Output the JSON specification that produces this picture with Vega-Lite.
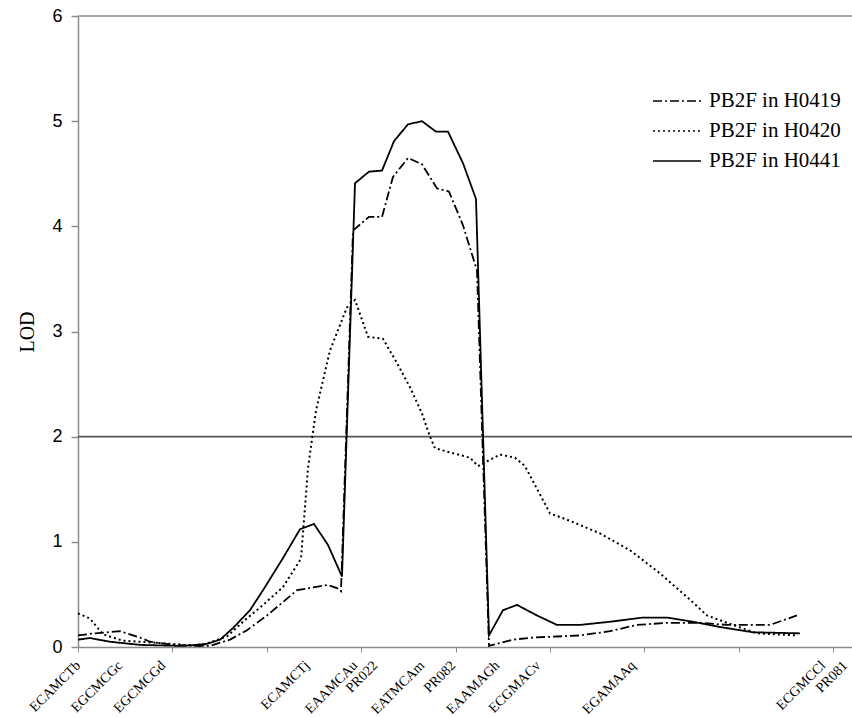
{
  "$schema": "https://vega.github.io/schema/vega-lite/v6.json",
  "width": 774,
  "height": 631,
  "autosize": {"type": "none"},
  "padding": {"left": 78, "top": 16, "right": 0, "bottom": 70},
  "background": "white",
  "config": {"view": {"stroke": null}, "legend": {"labelFont": "Liberation Serif"}},
  "datasets": {
    "lod": [
      {"series": "PB2F in H0441", "pos": 0, "lod": 0.07},
      {"series": "PB2F in H0441", "pos": 12, "lod": 0.085},
      {"series": "PB2F in H0441", "pos": 32, "lod": 0.05},
      {"series": "PB2F in H0441", "pos": 62, "lod": 0.02},
      {"series": "PB2F in H0441", "pos": 105, "lod": 0.01},
      {"series": "PB2F in H0441", "pos": 129, "lod": 0.03},
      {"series": "PB2F in H0441", "pos": 142, "lod": 0.07},
      {"series": "PB2F in H0441", "pos": 155, "lod": 0.18},
      {"series": "PB2F in H0441", "pos": 172, "lod": 0.35},
      {"series": "PB2F in H0441", "pos": 185, "lod": 0.54},
      {"series": "PB2F in H0441", "pos": 204, "lod": 0.83},
      {"series": "PB2F in H0441", "pos": 222, "lod": 1.12},
      {"series": "PB2F in H0441", "pos": 236, "lod": 1.17},
      {"series": "PB2F in H0441", "pos": 250, "lod": 0.97},
      {"series": "PB2F in H0441", "pos": 264, "lod": 0.67},
      {"series": "PB2F in H0441", "pos": 277, "lod": 4.41},
      {"series": "PB2F in H0441", "pos": 291, "lod": 4.52},
      {"series": "PB2F in H0441", "pos": 304, "lod": 4.53},
      {"series": "PB2F in H0441", "pos": 316, "lod": 4.81},
      {"series": "PB2F in H0441", "pos": 330, "lod": 4.97},
      {"series": "PB2F in H0441", "pos": 344, "lod": 5.0},
      {"series": "PB2F in H0441", "pos": 358, "lod": 4.9},
      {"series": "PB2F in H0441", "pos": 370, "lod": 4.9},
      {"series": "PB2F in H0441", "pos": 385, "lod": 4.6},
      {"series": "PB2F in H0441", "pos": 398, "lod": 4.26},
      {"series": "PB2F in H0441", "pos": 411, "lod": 0.11},
      {"series": "PB2F in H0441", "pos": 425, "lod": 0.35},
      {"series": "PB2F in H0441", "pos": 439, "lod": 0.4},
      {"series": "PB2F in H0441", "pos": 459, "lod": 0.3},
      {"series": "PB2F in H0441", "pos": 479, "lod": 0.21},
      {"series": "PB2F in H0441", "pos": 502, "lod": 0.21},
      {"series": "PB2F in H0441", "pos": 532, "lod": 0.24},
      {"series": "PB2F in H0441", "pos": 565, "lod": 0.28},
      {"series": "PB2F in H0441", "pos": 589, "lod": 0.28},
      {"series": "PB2F in H0441", "pos": 615, "lod": 0.24},
      {"series": "PB2F in H0441", "pos": 642, "lod": 0.19},
      {"series": "PB2F in H0441", "pos": 675, "lod": 0.14},
      {"series": "PB2F in H0441", "pos": 722, "lod": 0.13},
      {"series": "PB2F in H0419", "pos": 0, "lod": 0.11},
      {"series": "PB2F in H0419", "pos": 17, "lod": 0.13},
      {"series": "PB2F in H0419", "pos": 42, "lod": 0.15},
      {"series": "PB2F in H0419", "pos": 62, "lod": 0.09},
      {"series": "PB2F in H0419", "pos": 72, "lod": 0.05},
      {"series": "PB2F in H0419", "pos": 95, "lod": 0.02},
      {"series": "PB2F in H0419", "pos": 122, "lod": 0.01},
      {"series": "PB2F in H0419", "pos": 132, "lod": 0.01},
      {"series": "PB2F in H0419", "pos": 152, "lod": 0.07},
      {"series": "PB2F in H0419", "pos": 169, "lod": 0.16},
      {"series": "PB2F in H0419", "pos": 189, "lod": 0.3},
      {"series": "PB2F in H0419", "pos": 219, "lod": 0.54},
      {"series": "PB2F in H0419", "pos": 237, "lod": 0.57},
      {"series": "PB2F in H0419", "pos": 250, "lod": 0.59},
      {"series": "PB2F in H0419", "pos": 259, "lod": 0.56},
      {"series": "PB2F in H0419", "pos": 263, "lod": 0.53},
      {"series": "PB2F in H0419", "pos": 275, "lod": 3.96},
      {"series": "PB2F in H0419", "pos": 291, "lod": 4.09},
      {"series": "PB2F in H0419", "pos": 304, "lod": 4.09},
      {"series": "PB2F in H0419", "pos": 315, "lod": 4.47},
      {"series": "PB2F in H0419", "pos": 330, "lod": 4.65},
      {"series": "PB2F in H0419", "pos": 344, "lod": 4.59},
      {"series": "PB2F in H0419", "pos": 359, "lod": 4.36},
      {"series": "PB2F in H0419", "pos": 371, "lod": 4.33},
      {"series": "PB2F in H0419", "pos": 385, "lod": 4.01},
      {"series": "PB2F in H0419", "pos": 399, "lod": 3.58},
      {"series": "PB2F in H0419", "pos": 411, "lod": 0.01},
      {"series": "PB2F in H0419", "pos": 435, "lod": 0.07},
      {"series": "PB2F in H0419", "pos": 455, "lod": 0.09},
      {"series": "PB2F in H0419", "pos": 479, "lod": 0.1},
      {"series": "PB2F in H0419", "pos": 502, "lod": 0.11},
      {"series": "PB2F in H0419", "pos": 532, "lod": 0.15},
      {"series": "PB2F in H0419", "pos": 559, "lod": 0.21},
      {"series": "PB2F in H0419", "pos": 589, "lod": 0.23},
      {"series": "PB2F in H0419", "pos": 622, "lod": 0.23},
      {"series": "PB2F in H0419", "pos": 649, "lod": 0.21},
      {"series": "PB2F in H0419", "pos": 692, "lod": 0.21},
      {"series": "PB2F in H0419", "pos": 719, "lod": 0.3},
      {"series": "PB2F in H0420", "pos": 0, "lod": 0.32},
      {"series": "PB2F in H0420", "pos": 12, "lod": 0.27},
      {"series": "PB2F in H0420", "pos": 25, "lod": 0.12},
      {"series": "PB2F in H0420", "pos": 45, "lod": 0.06},
      {"series": "PB2F in H0420", "pos": 79, "lod": 0.04},
      {"series": "PB2F in H0420", "pos": 122, "lod": 0.01},
      {"series": "PB2F in H0420", "pos": 149, "lod": 0.1},
      {"series": "PB2F in H0420", "pos": 165, "lod": 0.24},
      {"series": "PB2F in H0420", "pos": 185, "lod": 0.4},
      {"series": "PB2F in H0420", "pos": 205, "lod": 0.57},
      {"series": "PB2F in H0420", "pos": 223, "lod": 0.84},
      {"series": "PB2F in H0420", "pos": 230, "lod": 1.7},
      {"series": "PB2F in H0420", "pos": 238, "lod": 2.25},
      {"series": "PB2F in H0420", "pos": 252, "lod": 2.82},
      {"series": "PB2F in H0420", "pos": 269, "lod": 3.23},
      {"series": "PB2F in H0420", "pos": 277, "lod": 3.3},
      {"series": "PB2F in H0420", "pos": 290, "lod": 2.95},
      {"series": "PB2F in H0420", "pos": 305, "lod": 2.93},
      {"series": "PB2F in H0420", "pos": 319, "lod": 2.7},
      {"series": "PB2F in H0420", "pos": 332, "lod": 2.47},
      {"series": "PB2F in H0420", "pos": 344, "lod": 2.22},
      {"series": "PB2F in H0420", "pos": 352, "lod": 2.0},
      {"series": "PB2F in H0420", "pos": 357, "lod": 1.89},
      {"series": "PB2F in H0420", "pos": 372, "lod": 1.85},
      {"series": "PB2F in H0420", "pos": 392, "lod": 1.8},
      {"series": "PB2F in H0420", "pos": 400, "lod": 1.72},
      {"series": "PB2F in H0420", "pos": 412, "lod": 1.78},
      {"series": "PB2F in H0420", "pos": 422, "lod": 1.83},
      {"series": "PB2F in H0420", "pos": 437, "lod": 1.8},
      {"series": "PB2F in H0420", "pos": 447, "lod": 1.72},
      {"series": "PB2F in H0420", "pos": 462, "lod": 1.45},
      {"series": "PB2F in H0420", "pos": 472, "lod": 1.27},
      {"series": "PB2F in H0420", "pos": 492, "lod": 1.2},
      {"series": "PB2F in H0420", "pos": 522, "lod": 1.08},
      {"series": "PB2F in H0420", "pos": 552, "lod": 0.92},
      {"series": "PB2F in H0420", "pos": 582, "lod": 0.7},
      {"series": "PB2F in H0420", "pos": 612, "lod": 0.45},
      {"series": "PB2F in H0420", "pos": 629, "lod": 0.3},
      {"series": "PB2F in H0420", "pos": 649, "lod": 0.23},
      {"series": "PB2F in H0420", "pos": 679, "lod": 0.13},
      {"series": "PB2F in H0420", "pos": 720, "lod": 0.11}
    ],
    "refs": [
      {"kind": "threshold", "lod": 2},
      {"kind": "frame", "lod": 6}
    ]
  },
  "resolve": {"axis": {"x": "independent"}},
  "layer": [
    {
      "data": {"name": "refs"},
      "transform": [{"filter": "datum.kind == 'frame'"}],
      "mark": {"type": "rule", "color": "#8c8c8c", "strokeWidth": 1.5},
      "encoding": {
        "y": {"field": "lod", "type": "quantitative", "scale": {"domain": [0, 6]}}
      }
    },
    {
      "data": {"name": "refs"},
      "transform": [{"filter": "datum.kind == 'threshold'"}],
      "mark": {"type": "rule", "color": "#555555", "strokeWidth": 1.8},
      "encoding": {
        "y": {"field": "lod", "type": "quantitative", "scale": {"domain": [0, 6]}}
      }
    },
    {
      "data": {"name": "lod"},
      "transform": [{"filter": "datum.series == 'PB2F in H0420'"}],
      "mark": {"type": "line", "color": "black", "strokeWidth": 2},
      "encoding": {
        "x": {
          "field": "pos", "type": "quantitative",
          "scale": {"domain": [0, 774], "nice": false, "zero": false},
          "axis": {
            "orient": "bottom",
            "values": [0, 94.4, 188.8, 283.2, 377.6, 472, 566.4, 660.8, 755.2],
            "labels": false, "ticks": true, "tickSize": 5, "tickColor": "#8c8c8c",
            "domain": true, "domainColor": "#8c8c8c", "domainWidth": 1.5,
            "grid": false, "title": null
          }
        },
        "y": {
          "field": "lod", "type": "quantitative",
          "scale": {"domain": [0, 6], "nice": false},
          "axis": {
            "values": [0, 1, 2, 3, 4, 5, 6], "format": "d",
            "grid": false, "domainColor": "#8c8c8c", "domainWidth": 1.5,
            "tickColor": "#8c8c8c", "tickSize": 7, "tickWidth": 1.5,
            "labelFont": "Liberation Sans", "labelFontSize": 18, "labelColor": "black",
            "labelPadding": 9,
            "title": "LOD", "titleFont": "Liberation Serif", "titleFontSize": 20,
            "titleFontWeight": "normal", "titleColor": "black", "titlePadding": 14
          }
        },
        "strokeDash": {
          "field": "series", "type": "nominal",
          "scale": {
            "domain": ["PB2F in H0419", "PB2F in H0420", "PB2F in H0441"],
            "range": [[9, 3, 2, 3], [2, 3], [1, 0]]
          },
          "legend": {
            "orient": "none", "legendX": 574, "legendY": 70, "title": null,
            "symbolType": "stroke", "symbolSize": 2304, "symbolStrokeWidth": 1.6,
            "symbolStrokeColor": "black", "clipHeight": 30,
            "labelFont": "Liberation Serif", "labelFontSize": 21, "labelColor": "black",
            "labelOffset": 7, "rowPadding": 0, "padding": 0, "labelLimit": 300
          }
        }
      }
    },
    {
      "data": {"name": "lod"},
      "transform": [{"filter": "datum.series != 'PB2F in H0420'"}],
      "mark": {"type": "line", "color": "black", "strokeWidth": 1.8},
      "encoding": {
        "x": {
          "field": "pos", "type": "quantitative",
          "scale": {"domain": [0, 774], "nice": false, "zero": false},
          "axis": {
            "orient": "bottom",
            "values": [0, 42, 85, 229, 277, 297, 344, 375, 419, 460, 555, 745, 767],
            "labelExpr": "datum.value == 0 ? 'ECAMCTb' : datum.value == 42 ? 'EGCMCGc' : datum.value == 85 ? 'EGCMCGd' : datum.value == 229 ? 'ECAMCTj' : datum.value == 277 ? 'EAAMCAu' : datum.value == 297 ? 'PR022' : datum.value == 344 ? 'EATMCAm' : datum.value == 375 ? 'PR082' : datum.value == 419 ? 'EAAMAGh' : datum.value == 460 ? 'ECGMACv' : datum.value == 555 ? 'EGAMAAq' : datum.value == 745 ? 'ECGMCCl' : 'PR081'",
            "domain": false, "ticks": false, "grid": false, "title": null,
            "labelAngle": -45, "labelAlign": "right", "labelBaseline": "top",
            "labelFont": "Liberation Serif", "labelFontSize": 14, "labelColor": "black",
            "labelPadding": 11, "labelOffset": -5,
            "labelOverlap": false, "labelBound": false, "labelFlush": false
          }
        },
        "y": {"field": "lod", "type": "quantitative", "scale": {"domain": [0, 6], "nice": false}},
        "strokeDash": {
          "field": "series", "type": "nominal",
          "scale": {
            "domain": ["PB2F in H0419", "PB2F in H0420", "PB2F in H0441"],
            "range": [[9, 3, 2, 3], [2, 3], [1, 0]]
          }
        }
      }
    }
  ]
}
